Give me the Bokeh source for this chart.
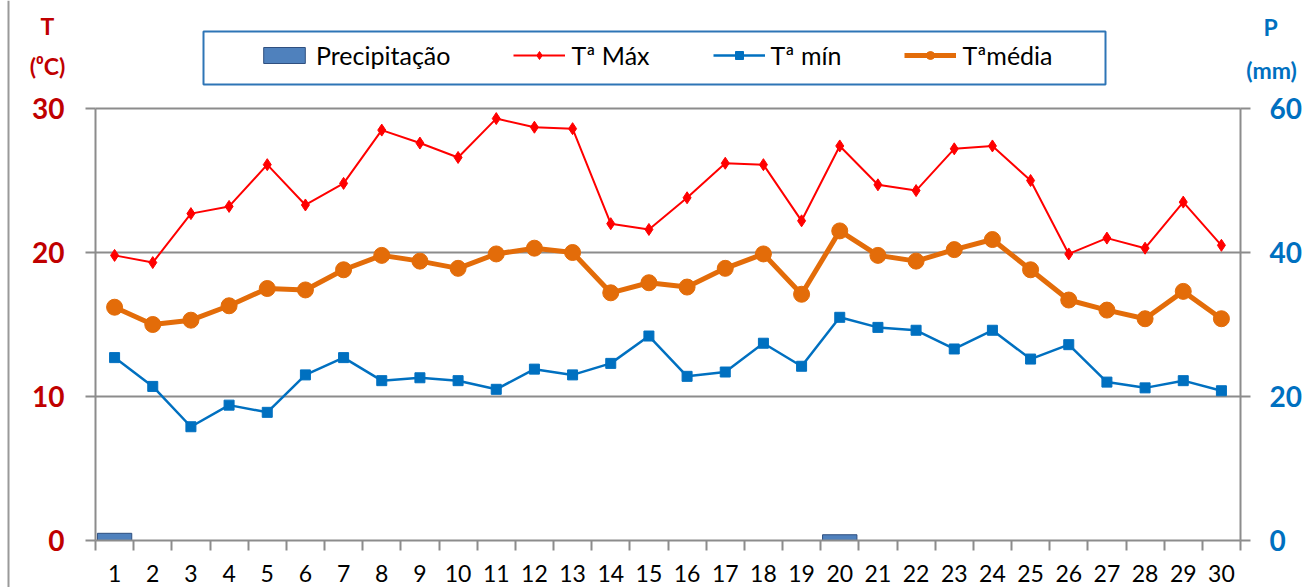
from bokeh.plotting import figure
from bokeh.models import (Range1d, LinearAxis, FixedTicker, Legend, LegendItem, Label,
                          BoxAnnotation, Span, Grid)
from bokeh.embed import file_html
from bokeh.resources import INLINE

days = list(range(1, 31))
day_labels = [str(d) for d in days]
t_max = [19.8, 19.3, 22.7, 23.2, 26.1, 23.3, 24.8, 28.5, 27.6, 26.6,
         29.3, 28.7, 28.6, 22.0, 21.6, 23.8, 26.2, 26.1, 22.2, 27.4,
         24.7, 24.3, 27.2, 27.4, 25.0, 19.9, 21.0, 20.3, 23.5, 20.5]
t_min = [12.7, 10.7, 7.9, 9.4, 8.9, 11.5, 12.7, 11.1, 11.3, 11.1,
         10.5, 11.9, 11.5, 12.3, 14.2, 11.4, 11.7, 13.7, 12.1, 15.5,
         14.8, 14.6, 13.3, 14.6, 12.6, 13.6, 11.0, 10.6, 11.1, 10.4]
t_med = [16.2, 15.0, 15.3, 16.3, 17.5, 17.4, 18.8, 19.8, 19.4, 18.9,
         19.9, 20.3, 20.0, 17.2, 17.9, 17.6, 18.9, 19.9, 17.1, 21.5,
         19.8, 19.4, 20.2, 20.9, 18.8, 16.7, 16.0, 15.4, 17.3, 15.4]
precip = [1.0, 0, 0, 0, 0, 0, 0, 0, 0, 0,
          0, 0, 0, 0, 0, 0, 0, 0, 0, 0.8,
          0, 0, 0, 0, 0, 0, 0, 0, 0, 0]
t_ticks = [0, 10, 20, 30]
p_ticks = [0, 20, 40, 60]

FONT = "Lato"
RED = "#C00000"
BLUE = "#0070C0"
GRAY = "#8C8C8C"

# layout (pixels): plot area 95..1240 x, 108..540 y in a 1306x587 canvas
W, H = 1306, 587
PL, PR, PT, PB = 95, 1240, 108, 540
x0, x1 = 0.5, 30.5
t0, t1 = 0, 30
q0, q1 = 0, 60
xs = (PR - PL) / (x1 - x0)
ts = (PB - PT) / (t1 - t0)
qs = (PB - PT) / (q1 - q0)
x_range = Range1d(x0 - PL / xs, x1 + (W - PR) / xs)
y_range = Range1d(t0 - (H - PB) / ts, t1 + PT / ts)
p_range = Range1d(q0 - (H - PB) / qs, q1 + PT / qs)

p = figure(width=W, height=H, x_range=x_range, y_range=y_range,
           output_backend="svg", toolbar_location=None, x_axis_type=None, y_axis_type=None,
           min_border_left=0, min_border_right=0, min_border_top=0, min_border_bottom=0)
p.extra_y_ranges = {"p": p_range}
p.outline_line_color = None
p.background_fill_color = "white"
p.border_fill_color = "white"
p.title.visible = False

# x axis
xa = LinearAxis(fixed_location=t0, bounds=(x0, x1),
                ticker=FixedTicker(ticks=days, minor_ticks=[d - 0.5 for d in days] + [30.5]))
xa.major_label_overrides = {d: l for d, l in zip(days, day_labels)}
xa.major_tick_out = 0
xa.major_tick_in = 0
xa.minor_tick_out = 10
xa.minor_tick_in = 0
xa.minor_tick_line_color = GRAY
xa.minor_tick_line_width = 2
xa.axis_line_color = GRAY
xa.axis_line_width = 2
xa.major_label_text_font = FONT
xa.major_label_text_font_size = "23px"
xa.major_label_text_color = "black"
xa.major_label_standoff = 14
p.add_layout(xa, "below")

# left axis
ya = LinearAxis(fixed_location=x0, bounds=(t0, t1),
                ticker=FixedTicker(ticks=t_ticks, minor_ticks=[]))
ya.major_tick_out = 10
ya.major_tick_in = 0
ya.minor_tick_out = 0
ya.major_tick_line_color = GRAY
ya.major_tick_line_width = 2
ya.axis_line_color = GRAY
ya.axis_line_width = 2
ya.major_label_text_font = FONT
ya.major_label_text_font_size = "28px"
ya.major_label_text_font_style = "bold"
ya.major_label_text_color = RED
ya.major_label_standoff = 21
p.add_layout(ya, "left")

# right axis
ra = LinearAxis(fixed_location=x1, bounds=(q0, q1), y_range_name="p",
                ticker=FixedTicker(ticks=p_ticks, minor_ticks=[]))
ra.major_tick_out = 10
ra.major_tick_in = 0
ra.minor_tick_out = 0
ra.major_tick_line_color = GRAY
ra.major_tick_line_width = 2
ra.axis_line_color = GRAY
ra.axis_line_width = 2
ra.major_label_text_font = FONT
ra.major_label_text_font_size = "28px"
ra.major_label_text_font_style = "bold"
ra.major_label_text_color = BLUE
ra.major_label_standoff = 19
p.add_layout(ra, "right")

p.xgrid.visible = False
p.ygrid.visible = False
g = Grid(dimension=1, ticker=FixedTicker(ticks=t_ticks[1:], minor_ticks=[]),
         cross_bounds=(x0, x1), grid_line_color=GRAY, grid_line_width=2)
p.add_layout(g)

# chart-area border on the left
p.add_layout(Span(location=8, location_units="canvas", dimension="height",
                  line_color="#9A9A9A", line_width=2))

# series
bar = p.vbar(x=days, top=precip, width=0.9, y_range_name="p",
             fill_color="#4F81BD", line_color="#2F4F7F", line_width=1)
l1 = p.line(days, t_max, line_color="#FF0000", line_width=2)
s1 = p.scatter(days, t_max, marker="diamond", size=12, fill_color="#FF0000", line_color="#FF0000")
l2 = p.line(days, t_min, line_color=BLUE, line_width=2.5)
s2 = p.scatter(days, t_min, marker="square", size=10, fill_color=BLUE, line_color=BLUE)
l3 = p.line(days, t_med, line_color="#E36C09", line_width=5)
s3 = p.scatter(days, t_med, marker="circle", size=16, fill_color="#E36C09", line_color="#E36C09")

# legend box
p.add_layout(BoxAnnotation(left=203, right=1105, top=31, bottom=84,
                           left_units="canvas", right_units="canvas",
                           top_units="canvas", bottom_units="canvas",
                           fill_color="white", fill_alpha=1.0,
                           line_color="#2E75B6", line_width=2, line_alpha=1.0))

legend = Legend(items=[
    LegendItem(label="Precipitação", renderers=[bar]),
    LegendItem(label="Tª Máx", renderers=[l1, s1]),
    LegendItem(label="Tª mín", renderers=[l2, s2]),
    LegendItem(label="Tªmédia", renderers=[l3, s3]),
], orientation="horizontal", location=(258, H - 70))
legend.border_line_color = None
legend.background_fill_alpha = 0
legend.label_text_font = FONT
legend.label_text_font_size = "25px"
legend.label_text_color = "black"
legend.glyph_width = 52
legend.glyph_height = 20
legend.label_standoff = 6
legend.spacing = 63
legend.padding = 12
legend.margin = 0
p.add_layout(legend)

def lab(text, x, y, color):
    p.add_layout(Label(x=x, y=H - y, x_units="screen", y_units="screen", text=text,
                       text_font=FONT, text_font_size="23px", text_font_style="bold",
                       text_color=color, text_align="center", text_baseline="middle"))

lab("T", 47, 25, RED)
lab("(⁰C)", 47, 65, RED)
lab("P", 1270, 26, BLUE)
lab("(mm)", 1271, 69, BLUE)

open("out.html", "w").write(file_html(p, INLINE))
